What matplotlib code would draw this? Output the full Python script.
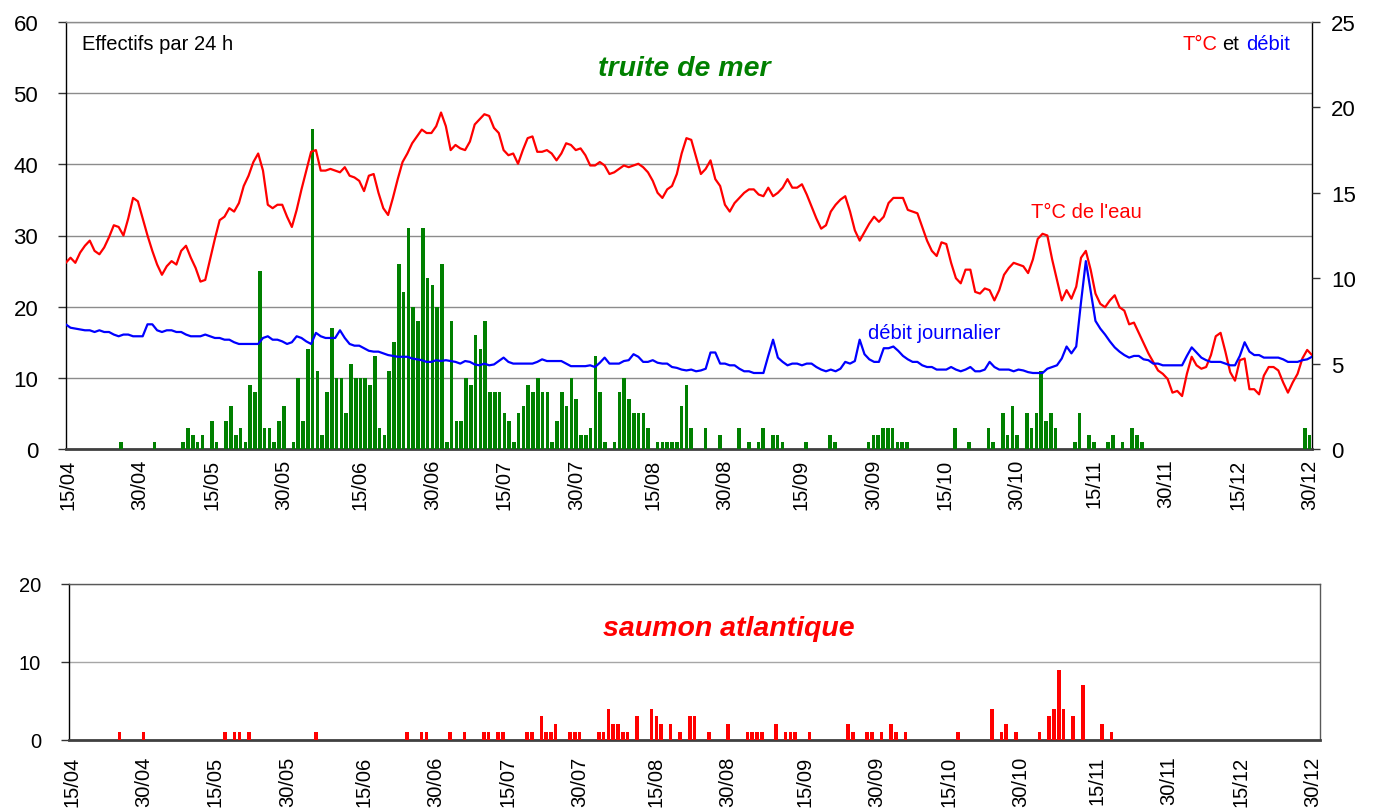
import numpy as np
import matplotlib
matplotlib.use('Agg')
import matplotlib.pyplot as plt

plt.rcParams['font.family'] = ['Liberation Sans', 'DejaVu Sans']

# ---------------- data ----------------
tick_labels = ['15/04', '30/04', '15/05', '30/05', '15/06', '30/06', '15/07', '30/07',
               '15/08', '30/08', '15/09', '30/09', '15/10', '30/10', '15/11', '30/11',
               '15/12', '30/12']
tick_days = [0, 15, 30, 45, 61, 76, 91, 106, 122, 137, 153, 168, 183, 198, 214, 229, 244, 259]

# daily water temperature (°C), 15/04 -> 30/12
temperature = [
    10.9, 11.2, 10.9, 11.5, 11.9, 12.2, 11.6, 11.4, 11.8, 12.4,
    13.1, 13.0, 12.5, 13.5, 14.7, 14.5, 13.5, 12.5, 11.6, 10.8,
    10.2, 10.7, 11.0, 10.8, 11.6, 11.9, 11.2, 10.6, 9.8, 9.9,
    11.1, 12.3, 13.4, 13.6, 14.1, 13.9, 14.4, 15.4, 16.0, 16.8,
    17.3, 16.3, 14.3, 14.1, 14.3, 14.3, 13.6, 13.0, 14.0, 15.2,
    16.3, 17.4, 17.5, 16.3, 16.3, 16.4, 16.3, 16.2, 16.5, 16.0,
    15.9, 15.7, 15.1, 16.0, 16.1, 15.0, 14.1, 13.7, 14.7, 15.8,
    16.8, 17.3, 17.9, 18.3, 18.7, 18.5, 18.5, 18.9, 19.7, 18.9,
    17.5, 17.8, 17.6, 17.5, 18.0, 19.0, 19.3, 19.6, 19.5, 18.8,
    18.5, 17.5, 17.2, 17.3, 16.7, 17.5, 18.2, 18.3, 17.4, 17.4,
    17.5, 17.3, 16.9, 17.3, 17.9, 17.8, 17.5, 17.6, 17.2, 16.6,
    16.6, 16.8, 16.6, 16.1, 16.2, 16.4, 16.6, 16.5, 16.6, 16.7,
    16.5, 16.2, 15.7, 15.0, 14.7, 15.2, 15.4, 16.1, 17.3, 18.2,
    18.1, 17.1, 16.1, 16.4, 16.9, 15.8, 15.4, 14.3, 13.9, 14.4,
    14.7, 15.0, 15.2, 15.2, 14.9, 14.8, 15.3, 14.8, 15.0, 15.3,
    15.8, 15.3, 15.3, 15.5, 14.9, 14.2, 13.5, 12.9, 13.1, 13.9,
    14.3, 14.6, 14.8, 13.9, 12.8, 12.2, 12.7, 13.2, 13.6, 13.3,
    13.6, 14.4, 14.7, 14.7, 14.7, 14.0, 13.9, 13.8, 13.0, 12.2,
    11.6, 11.3, 12.1, 12.0, 10.9, 10.0, 9.7, 10.5, 10.5, 9.2,
    9.1, 9.4, 9.3, 8.7, 9.3, 10.2, 10.6, 10.9, 10.8, 10.7,
    10.3, 11.1, 12.3, 12.6, 12.5, 11.1, 9.9, 8.7, 9.3, 8.8,
    9.5, 11.2, 11.6, 10.5, 9.1, 8.5, 8.3, 8.7, 9.0, 8.3,
    8.1, 7.3, 7.4, 6.8, 6.2, 5.6, 5.1, 4.6, 4.4, 4.1,
    3.3, 3.4, 3.1, 4.4, 5.4, 4.9, 4.7, 4.8, 5.5, 6.6,
    6.8, 5.7, 4.5, 4.0, 5.2, 5.3, 3.5, 3.5, 3.2, 4.3,
    4.8, 4.8, 4.6, 3.9, 3.3, 3.9, 4.4, 5.3, 5.8, 5.5,
]

# daily flow (débit journalier), right axis
debit = [
    7.3, 7.1, 7.05, 7.0, 6.95, 6.95, 6.85, 6.95, 6.85, 6.85,
    6.7, 6.6, 6.7, 6.7, 6.6, 6.6, 6.6, 7.3, 7.3, 6.95,
    6.85, 6.95, 6.95, 6.85, 6.85, 6.7, 6.6, 6.6, 6.6, 6.7,
    6.6, 6.5, 6.5, 6.4, 6.4, 6.25, 6.15, 6.15, 6.15, 6.15,
    6.15, 6.5, 6.6, 6.4, 6.4, 6.3, 6.15, 6.25, 6.6, 6.5,
    6.3, 6.15, 6.8, 6.6, 6.5, 6.5, 6.5, 6.95, 6.5, 6.15,
    6.05, 6.05, 5.9, 5.75, 5.7, 5.7, 5.6, 5.5, 5.45, 5.4,
    5.4, 5.4, 5.3, 5.25, 5.2, 5.1, 5.1, 5.2, 5.15, 5.2,
    5.15, 5.1, 5.0, 5.15, 5.1, 4.95, 4.9, 5.0, 4.9, 4.95,
    5.15, 5.35, 5.1, 5.0, 5.0, 5.0, 5.0, 5.0, 5.1, 5.25,
    5.15, 5.15, 5.15, 5.15, 5.0, 4.85, 4.85, 4.85, 4.85, 4.9,
    4.8, 5.05, 5.35, 5.0, 5.0, 5.0, 5.15, 5.2, 5.55, 5.4,
    5.1, 5.1, 5.2, 5.05, 5.0, 5.0, 4.8, 4.75, 4.65, 4.6,
    4.65, 4.55, 4.6, 4.7, 5.65, 5.65, 5.0, 5.0, 4.9, 4.9,
    4.7, 4.55, 4.55, 4.45, 4.45, 4.45, 5.45, 6.4, 5.35, 5.1,
    4.9, 5.0, 5.0, 4.9, 5.0, 5.0, 4.8, 4.65, 4.55, 4.65,
    4.55, 4.7, 5.1, 5.0, 5.15, 6.4, 5.55, 5.25, 5.1, 5.1,
    5.9, 5.9, 6.0, 5.75, 5.45, 5.25, 5.1, 5.1, 4.9, 4.8,
    4.8, 4.65, 4.65, 4.65, 4.8, 4.65, 4.55, 4.65, 4.8, 4.55,
    4.55, 4.65, 5.1, 4.8, 4.65, 4.65, 4.65, 4.55, 4.65, 4.6,
    4.5, 4.45, 4.45, 4.45, 4.7, 4.8, 4.9, 5.3, 6.0, 5.6,
    6.0, 8.6, 11.0, 9.25, 7.5, 7.05, 6.7, 6.3, 5.95, 5.7,
    5.5, 5.35, 5.45, 5.45, 5.25, 5.2, 5.0, 5.0, 4.9, 4.9,
    4.9, 4.9, 4.9, 5.45, 5.95, 5.65, 5.35, 5.2, 5.1, 5.1,
    5.1, 5.0, 4.9, 4.9, 5.45, 6.25, 5.7, 5.5, 5.5, 5.35,
    5.35, 5.35, 5.35, 5.25, 5.1, 5.1, 5.1, 5.2, 5.25, 5.4,
]

# sea trout daily counts (day index from 15/04, count)
trout_days = [
    11, 18, 24, 25, 26, 27, 28, 30, 31, 33, 34, 35, 36, 37, 38, 39, 40, 41, 42, 43,
    44, 45, 47, 48, 49, 50, 51, 52, 53, 54, 55, 56, 57, 58, 59, 60, 61, 62, 63, 64,
    65, 66, 67, 68, 69, 70, 71, 72, 73, 74, 75, 76, 77, 78, 79, 80, 81, 82, 83, 84,
    85, 86, 87, 88, 89, 90, 91, 92, 93, 94, 95, 96, 97, 98, 99, 100, 101, 102, 103, 104,
    105, 106, 107, 108, 109, 110, 111, 112, 114, 115, 116, 117, 118, 119, 120, 121, 123, 124, 125, 126,
    127, 128, 129, 130, 133, 136, 140, 142, 144, 145, 147, 148, 149, 154, 159, 160, 167, 168, 169, 170,
    171, 172, 173, 174, 175, 185, 188, 192, 193, 195, 196, 197, 198, 200, 201, 202, 203, 204, 205, 206,
    210, 211, 213, 214, 217, 218, 220, 222, 223, 224, 258, 259,
]
trout_counts = [
    1, 1, 1, 3, 2, 1, 2, 4, 1, 4, 6, 2, 3, 1, 9, 8, 25, 3, 3, 1,
    4, 6, 1, 10, 4, 14, 45, 11, 2, 8, 17, 10, 10, 5, 12, 10, 10, 10, 9, 13,
    3, 2, 11, 15, 26, 22, 31, 20, 18, 31, 24, 23, 20, 26, 1, 18, 4, 4, 10, 9,
    16, 14, 18, 8, 8, 8, 5, 4, 1, 5, 6, 9, 8, 10, 8, 8, 1, 4, 8, 6,
    10, 7, 2, 2, 3, 13, 8, 1, 1, 8, 10, 7, 5, 5, 5, 3, 1, 1, 1, 1,
    1, 6, 9, 3, 3, 2, 3, 1, 1, 3, 2, 2, 1, 1, 2, 1, 1, 2, 2, 3,
    3, 3, 1, 1, 1, 3, 1, 3, 1, 5, 2, 6, 2, 5, 3, 5, 11, 4, 5, 3,
    1, 5, 2, 1, 1, 2, 1, 3, 2, 1, 3, 2,
]

# atlantic salmon daily counts
salmon_days = [
    10, 15, 32, 34, 35, 37, 51, 70, 73, 74, 79, 82,
    86, 87, 89, 90, 95, 96, 98, 99, 100, 101,
    104, 105, 106, 110, 111, 112, 113, 114, 115, 116,
    118, 121, 122, 123, 125, 127, 129, 130, 133, 137,
    141, 142, 143, 144, 147, 149, 150, 151, 154, 162,
    163, 166, 167, 169, 171, 172, 174, 185, 192, 194,
    195, 197, 202, 204, 205, 206, 207, 209, 211, 215,
    217,
]
salmon_counts = [
    1, 1, 1, 1, 1, 1, 1, 1, 1, 1, 1, 1,
    1, 1, 1, 1, 1, 1, 3, 1, 1, 2,
    1, 1, 1, 1, 1, 4, 2, 2, 1, 1,
    3, 4, 3, 2, 2, 1, 3, 3, 1, 2,
    1, 1, 1, 1, 2, 1, 1, 1, 1, 2,
    1, 1, 1, 1, 2, 1, 1, 1, 4, 1,
    2, 1, 1, 3, 4, 9, 4, 3, 7, 2,
    1,
]

assert len(temperature) == len(debit)
assert len(trout_days) == len(trout_counts)
assert len(salmon_days) == len(salmon_counts)

n_days = len(temperature)
days = np.arange(n_days)

# ---------------- figure ----------------
W, H, DPI = 1374, 812, 100
fig = plt.figure(figsize=(W / DPI, H / DPI), dpi=DPI)
fig.patch.set_facecolor('white')


def fx(px):
    return px / W


def fy(py):
    return 1 - py / H


GREEN = '#008000'
RED = '#FF0000'
BLUE = '#0000FF'

# ----- top panel: trout bars (left axis) -----
L, R, T, B = 65.7, 1312.0, 23.0, 450.0
ax = fig.add_axes([fx(L), fy(B), (R - L) / W, (B - T) / H])
ax.bar(np.array(trout_days) + 0.5, trout_counts, width=0.75, color=GREEN,
       linewidth=0, zorder=3)
ax.set_xlim(0, n_days)
ax.set_ylim(0, 60)
ax.set_yticks(range(0, 61, 10))
ax.yaxis.grid(True, color='#8c8c8c', lw=1.0, zorder=0)
ax.set_axisbelow(True)
ax.set_xticks(np.array(tick_days) + 0.5)
ax.set_xticklabels(tick_labels, rotation=90, fontsize=14.5)
ax.tick_params(axis='x', length=0, pad=7)
ax.tick_params(axis='y', length=5.8, width=1, direction='out', labelsize=16,
               pad=14, color='#333333')
ax.spines['left'].set_color('black')
ax.spines['left'].set_linewidth(1.0)
ax.spines['right'].set_color('black')
ax.spines['right'].set_linewidth(1.0)
ax.spines['top'].set_color('#8c8c8c')
ax.spines['top'].set_linewidth(1.0)
ax.spines['bottom'].set_color('#404040')
ax.spines['bottom'].set_linewidth(2.0)

# ----- top panel: temperature & flow lines (right axis) -----
ax2 = fig.add_axes(ax.get_position(), frameon=False)
ax2.plot(days, temperature, color=RED, lw=1.6, zorder=4)
ax2.plot(days, debit, color=BLUE, lw=1.6, zorder=4)
ax2.set_xlim(0, n_days - 1)
ax2.set_ylim(0, 25)
ax2.yaxis.tick_right()
ax2.set_yticks(range(0, 26, 5))
ax2.xaxis.set_visible(False)
ax2.tick_params(axis='y', length=5.8, width=1, direction='out', labelsize=16,
                pad=8, color='#333333')
ax2.patch.set_alpha(0)

# annotations top panel
fig.text(fx(81.7), fy(50), 'Effectifs par 24 h', fontsize=14.5, va='baseline',
         ha='left', color='black')
fig.text(fx(684.5), fy(76), 'truite de mer', fontsize=20.5, fontweight='bold',
         fontstyle='italic', color=GREEN, ha='center', va='baseline')
fig.text(fx(1182.3), fy(50), 'T°C', fontsize=14.5, color=RED, va='baseline', ha='left')
fig.text(fx(1221.7), fy(50), 'et', fontsize=14.5, color='black', va='baseline', ha='left')
fig.text(fx(1245.7), fy(50), 'débit', fontsize=14.5, color=BLUE, va='baseline', ha='left')
fig.text(fx(1030.7), fy(217.7), "T°C de l'eau", fontsize=14.5, color=RED,
         va='baseline', ha='left')
fig.text(fx(868.3), fy(339), 'débit journalier', fontsize=14.5, color=BLUE,
         va='baseline', ha='left')

# ----- bottom panel: salmon bars -----
L2, R2, T2, B2 = 69.3, 1320.0, 584.7, 740.7
axb = fig.add_axes([fx(L2), fy(B2), (R2 - L2) / W, (B2 - T2) / H])
axb.bar(salmon_days, salmon_counts, width=0.75, color=RED, linewidth=0, zorder=3)
axb.set_xlim(-0.5, n_days + 0.5)
axb.set_ylim(0, 20)
axb.set_yticks([0, 10, 20])
axb.yaxis.grid(True, color='#a6a6a6', lw=1.0, zorder=0)
axb.set_axisbelow(True)
axb.set_xticks(tick_days)
axb.set_xticklabels(tick_labels, rotation=90, fontsize=14.5)
axb.tick_params(axis='x', length=0, pad=11.5)
axb.tick_params(axis='y', length=5.8, width=1, direction='out', labelsize=14.5,
                pad=14.6, color='#333333')
axb.spines['left'].set_color('black')
axb.spines['left'].set_linewidth(1.0)
axb.spines['right'].set_color('#595959')
axb.spines['right'].set_linewidth(1.0)
axb.spines['top'].set_color('#595959')
axb.spines['top'].set_linewidth(1.0)
axb.spines['bottom'].set_color('#404040')
axb.spines['bottom'].set_linewidth(2.0)

fig.text(fx(728.5), fy(636), 'saumon atlantique', fontsize=20.5, fontweight='bold',
         fontstyle='italic', color=RED, ha='center', va='baseline')

fig.savefig('out.png', dpi=DPI, facecolor='white')
